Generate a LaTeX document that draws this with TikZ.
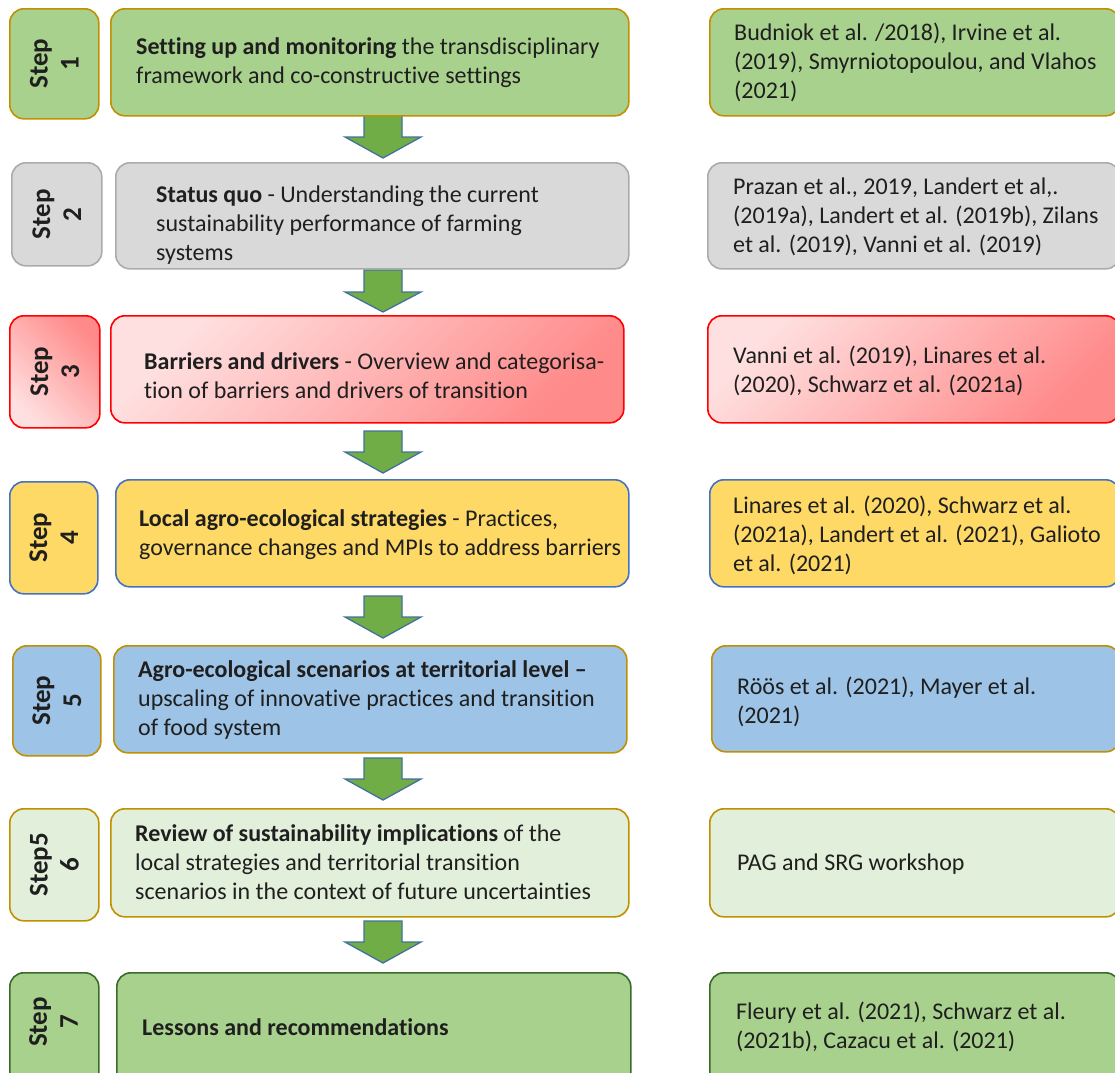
\documentclass[tikz,border=0pt]{standalone}
\usepackage{fontspec}
\setmainfont{Carlito}[Ligatures=NoCommon]
\definecolor{gFill}{HTML}{A9D18E}
\definecolor{gold}{HTML}{BF9000}
\definecolor{grFill}{HTML}{D9D9D9}
\definecolor{grLine}{HTML}{ABABAB}
\definecolor{redL}{HTML}{FFE0E0}
\definecolor{redD}{HTML}{FF8A8A}
\definecolor{redLine}{HTML}{FF0000}
\definecolor{yFill}{HTML}{FFD966}
\definecolor{bLine}{HTML}{4472C4}
\definecolor{bFill}{HTML}{9DC3E6}
\definecolor{lgFill}{HTML}{E2EFDA}
\definecolor{dgLine}{HTML}{3B6B2A}
\definecolor{arrG}{HTML}{70AD47}
\definecolor{arrB}{HTML}{41719C}
\tikzset{
  box/.style={rounded corners=14pt, line width=1.6pt, inner sep=0pt, anchor=north west},
  txt/.style={anchor=west, align=left, inner sep=0pt, font=\fontsize{24}{29}\selectfont,
    text=black!88, execute at begin node=\strut, execute at end node=\strut},
  steptxt/.style={rotate=90, align=center, inner sep=0pt, text=black!88,
    font=\bfseries\fontsize{27}{31}\selectfont},
  blockarrow/.style={fill=arrG, draw=arrB, line width=1.3pt, line join=miter},
  rowA/.style={fill=gFill, draw=gold},
  rowB/.style={fill=grFill, draw=grLine},
  rowD/.style={fill=yFill, draw=bLine},
  rowE/.style={fill=bFill, draw=gold},
  rowF/.style={fill=lgFill, draw=gold},
  rowG/.style={fill=gFill, draw=dgLine},
}
\newcommand{\bigarrow}[4]{% name, top, head start, tip
  \coordinate (#1t) at (383,#2);
  \coordinate (#1h) at (383,#3);
  \coordinate (#1e) at (383,#4);
  \path[blockarrow] ([xshift=-19pt]#1t) -- ([xshift=19pt]#1t) -- ([xshift=19pt]#1h)
    -- ([xshift=38pt]#1h) -- (#1e) -- ([xshift=-38pt]#1h) -- ([xshift=-19pt]#1h) -- cycle;
}
\begin{document}
\begin{tikzpicture}[x=1pt,y=-1pt]
\useasboundingbox (0,0) rectangle (1115,1072);

% arrows
\bigarrow{a1}{115}{137}{158}
\bigarrow{a2}{270}{292}{312}
\bigarrow{a3}{431}{452}{473}
\bigarrow{a4}{596}{617}{638}
\bigarrow{a5}{758}{779}{800}
\bigarrow{a6}{921}{942}{963}

% Row 1
\node[box, rowA, minimum width=89pt, minimum height=110pt] (s1) at (9,8) {};
\node[box, rowA, minimum width=518pt, minimum height=107pt] (m1) at (110,8) {};
\node[box, rowA, minimum width=410pt, minimum height=107pt] (r1) at (709,8) {};
\node[steptxt] (l1) at (s1.center) {Step\\1};
\node[txt] (t1) at (136,65) {\textbf{Setting up and monitoring} the transdisciplinary\\framework and co-constructive settings};
\node[txt] (c1) at (734,65) {Budniok et al. /2018), Irvine et al.\\(2019), Smyrniotopoulou, and Vlahos\\(2021)};

% Row 2
\node[box, rowB, minimum width=90pt, minimum height=103pt] (s2) at (11,162) {};
\node[box, rowB, minimum width=513pt, minimum height=106pt] (m2) at (115,162) {};
\node[box, rowB, minimum width=412pt, minimum height=106pt] (r2) at (707,162) {};
\node[steptxt] (l2) at (s2.center) {Step\\2};
\node[txt] (t2) at (156,228) {\textbf{Status quo} - Understanding the current\\sustainability performance of farming\\systems};
\node[txt] (c2) at (733,220) {Prazan et al., 2019, Landert et al,.\\(2019a), Landert et al. (2019b), Zilans\\et al. (2019), Vanni et al. (2019)};

% Row 3
\node[box, draw=redLine, top color=redD, bottom color=redL, shading angle=-45, minimum width=90pt, minimum height=112pt] (s3) at (9,315) {};
\node[box, draw=redLine, top color=redL, bottom color=redD, shading angle=45, minimum width=513pt, minimum height=107pt] (m3) at (110,315) {};
\node[box, draw=redLine, top color=redL, bottom color=redD, shading angle=45, minimum width=412pt, minimum height=107pt] (r3) at (707,315) {};
\node[steptxt] (l3) at (s3.center) {Step\\3};
\node[txt] (t3) at (144,380) {\textbf{Barriers and drivers} - Overview and categorisa-\\tion of barriers and drivers of transition};
\node[txt] (c3) at (733,374) {Vanni et al. (2019), Linares et al.\\(2020), Schwarz et al. (2021a)};

% Row 4
\node[box, rowD, minimum width=88pt, minimum height=112pt] (s4) at (9,481) {};
\node[box, rowD, minimum width=513pt, minimum height=107pt] (m4) at (115,479) {};
\node[box, rowD, minimum width=410pt, minimum height=107pt] (r4) at (709,479) {};
\node[steptxt] (l4) at (s4.center) {Step\\4};
\node[txt] (t4) at (139,537) {\textbf{Local agro-ecological strategies} - Practices,\\governance changes and MPIs to address barriers};
\node[txt] (c4) at (733,538) {Linares et al. (2020), Schwarz et al.\\(2021a), Landert et al. (2021), Galioto\\et al. (2021)};

% Row 5
\node[box, rowE, minimum width=88pt, minimum height=110pt] (s5) at (12,645) {};
\node[box, rowE, minimum width=513pt, minimum height=107pt] (m5) at (113,645) {};
\node[box, rowE, minimum width=408pt, minimum height=106pt] (r5) at (711,645) {};
\node[steptxt] (l5) at (s5.center) {Step\\5};
\node[txt] (t5) at (138,702) {\textbf{Agro-ecological scenarios at territorial level –}\\upscaling of innovative practices and transition\\of food system};
\node[txt] (c5) at (737,705) {Röös et al. (2021), Mayer et al.\\(2021)};

% Row 6
\node[box, rowF, minimum width=89pt, minimum height=112pt] (s6) at (9,808) {};
\node[box, rowF, minimum width=518pt, minimum height=108pt] (m6) at (110,808) {};
\node[box, rowF, minimum width=410pt, minimum height=108pt] (r6) at (709,808) {};
\node[steptxt] (l6) at (s6.center) {Step5\\6};
\node[txt] (t6) at (135,866) {\textbf{Review of sustainability implications} of the\\local strategies and territorial transition\\scenarios in the context of future uncertainties};
\node[txt] (c6) at (737,865) {PAG and SRG workshop};

% Row 7
\node[box, rowG, minimum width=89pt, minimum height=115pt] (s7) at (9,972) {};
\node[box, rowG, minimum width=514pt, minimum height=115pt] (m7) at (116,972) {};
\node[box, rowG, minimum width=410pt, minimum height=115pt] (r7) at (709,972) {};
\node[steptxt] (l7) at (9+44.5,1022) {Step\\7};
\node[txt] (t7) at (142,1030) {\textbf{Lessons and recommendations}};
\node[txt] (c7) at (736,1030) {Fleury et al. (2021), Schwarz et al.\\(2021b), Cazacu et al. (2021)};
\end{tikzpicture}
\end{document}
